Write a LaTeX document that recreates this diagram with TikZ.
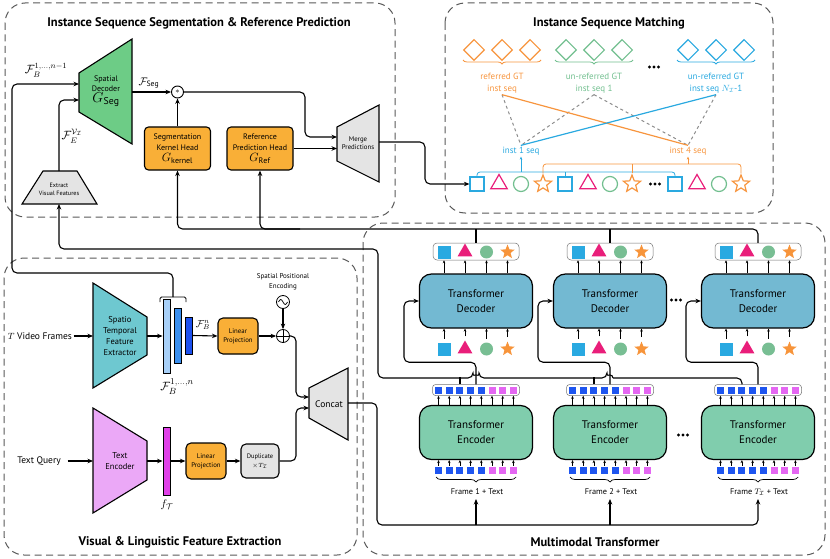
\documentclass[tikz,border=0pt]{standalone}
\usepackage{amsmath}
\usepackage{fontspec}
\setmainfont{PT Sans}
\usepackage{tikz}
\usetikzlibrary{arrows.meta}
\usetikzlibrary{shapes.geometric}
\usetikzlibrary{positioning}
\usetikzlibrary{decorations.pathreplacing}

\definecolor{segreen}{HTML}{6DCC86}
\definecolor{stteal}{HTML}{6EC8D0}
\definecolor{tepink}{HTML}{EBA8F7}
\definecolor{boxgray}{HTML}{E4E4E4}
\definecolor{headorange}{HTML}{F9AF37}
\definecolor{decblue}{HTML}{73B9D2}
\definecolor{encgreen}{HTML}{80CDAD}
\definecolor{fblight}{HTML}{A8D0F8}
\definecolor{fbmid}{HTML}{3A8FEF}
\definecolor{fbdark}{HTML}{1C50EE}
\definecolor{ftmag}{HTML}{E040E8}
\definecolor{tokblue}{HTML}{1E55F0}
\definecolor{tokpink}{HTML}{E466F2}
\definecolor{qblue}{HTML}{29A9E1}
\definecolor{qpink}{HTML}{E91E7A}
\definecolor{qgreen}{HTML}{78BE93}
\definecolor{qorange}{HTML}{F7943A}
\definecolor{morange}{HTML}{F7953E}
\definecolor{mgreen}{HTML}{72BF8F}
\definecolor{mblue}{HTML}{2AA9E0}

\newcommand{\threedots}[2]{\foreach \dd in {-4.5,0,4.5}{\fill (#1+\dd,#2) circle (1.6pt);}}

\begin{document}
\begin{tikzpicture}[
	x=1pt, y=-1pt,
	line width=1.1pt,
	font=\fontsize{8}{10}\selectfont
]
\tikzset{
    panel/.style = {draw=black!65, line width=1pt, dash pattern=on 7pt off 4.5pt, rounded corners=20pt},
    paneltitle/.style = {font=\bfseries\fontsize{12.5}{14}\selectfont},
    arr/.style = {-{Stealth[length=5.5pt,width=4.5pt]}, line width=1.1pt, rounded corners=5pt},
    conn/.style = {line width=1.1pt, rounded corners=5pt},
    tarr/.style = {-{Stealth[length=3pt,width=2.6pt]}, line width=0.7pt},
    trap/.style = {draw, line width=1.1pt},
    headbox/.style = {draw, line width=1.1pt, rounded corners=4pt, fill=headorange, align=center, minimum width=66pt, minimum height=43pt, inner sep=1pt, font=\fontsize{8}{11}\selectfont},
    smallbox/.style = {draw, line width=1.1pt, rounded corners=5pt, fill=headorange, align=center, minimum width=40pt, minimum height=36pt, inner sep=1pt, font=\fontsize{6.8}{9}\selectfont},
    bar/.style = {draw, line width=0.8pt, minimum width=7pt, inner sep=0pt},
    decbox/.style = {draw, line width=1.2pt, rounded corners=12pt, fill=decblue, align=center, minimum width=113pt, minimum height=54pt, font=\fontsize{11}{15}\selectfont},
    encbox/.style = {decbox, fill=encgreen},
    outbox/.style = {draw=black!55, line width=0.5pt, rounded corners=4pt, fill=white, minimum width=86pt, minimum height=17pt, inner sep=0pt},
    tokbox/.style = {outbox, minimum width=87pt, minimum height=11pt, rounded corners=3pt},
    tok/.style = {rectangle, minimum size=7pt, inner sep=0pt},
    qsq/.style = {rectangle, fill=qblue, minimum size=13pt, inner sep=0pt},
    qtri/.style = {regular polygon, regular polygon sides=3, fill=qpink, minimum size=17pt, inner sep=0pt},
    qcirc/.style = {circle, fill=qgreen, minimum size=13pt, inner sep=0pt},
    qstar/.style = {star, star points=5, star point ratio=2.3, fill=qorange, minimum size=15pt, inner sep=0pt},
    msq/.style = {rectangle, draw=mblue, line width=1.2pt, minimum size=14pt, inner sep=0pt},
    mtri/.style = {regular polygon, regular polygon sides=3, draw=qpink, line width=1.2pt, minimum size=19pt, inner sep=0pt},
    mcirc/.style = {circle, draw=mgreen, line width=1.2pt, minimum size=15pt, inner sep=0pt},
    mstar/.style = {star, star points=5, star point ratio=2.3, draw=morange, line width=1.2pt, minimum size=18pt, inner sep=0pt},
    gtdia/.style = {diamond, aspect=1, minimum size=21pt, inner sep=0pt, line width=1.1pt},
    mbrace/.style = {decorate, decoration={brace, amplitude=4pt, mirror}, line width=0.8pt},
    ebrace/.style = {decorate, decoration={brace, amplitude=5pt, mirror}, line width=0.7pt},
    mlab/.style = {align=center, inner sep=1pt, font=\fontsize{9}{12}\selectfont},
    oplus/.style = {circle, draw, line width=0.8pt, minimum size=13pt, inner sep=0pt,
        path picture={\draw[line width=0.8pt] (path picture bounding box.north) -- (path picture bounding box.south)
        (path picture bounding box.west) -- (path picture bounding box.east);}},
    sine/.style = {circle, draw, line width=0.8pt, minimum size=13pt, inner sep=0pt,
        path picture={\draw[line width=0.7pt] ([xshift=-4.5pt]path picture bounding box.center) sin ++(2.25pt,2.5pt) cos ++(2.25pt,-2.5pt) sin ++(2.25pt,-2.5pt) cos ++(2.25pt,2.5pt);}}
}
\useasboundingbox (0,0) rectangle (830,559);

% panels
\draw[panel] (5,3) rectangle (395,217);
\draw[panel] (445,3) rectangle (773,213);
\draw[panel] (4,258) rectangle (357,555);
\draw[panel] (363,223) rectangle (825,555);
\node[paneltitle] (t-seg) at (199,23) {Instance Sequence Segmentation \& Reference Prediction};
\node[paneltitle] (t-match) at (609,23) {Instance Sequence Matching};
\node[paneltitle] (t-feat) at (180,542) {Visual \& Linguistic Feature Extraction};
\node[paneltitle] (t-mm) at (595,542) {Multimodal Transformer};

% segmentation & reference prediction
\draw[trap, fill=segreen] (79,73) -- (132,39) -- (132,144) -- (79,112) -- cycle;
\node[align=center, font=\fontsize{8}{10.5}\selectfont] (sdec) at (106,91) {Spatial\\Decoder\\{\fontsize{14}{14}\selectfont$G_{\mathrm{Seg}}$}};
\coordinate (sdec-in1) at (79,84);
\coordinate (sdec-in2) at (79,100);
\coordinate (sdec-out) at (132,92);
\node[inner sep=0pt] (fb-lab) at (46,70) {\fontsize{12}{12}\selectfont$\mathcal{F}_B^{1,\ldots,n-1}$};
\node[inner sep=0pt] (fe-lab) at (72,136) {\fontsize{11.5}{11}\selectfont$\mathcal{F}_E^{\mathcal{V}_{\mathcal{I}}}$};
\node[inner sep=0pt] (fseg-lab) at (149,83) {\fontsize{11}{11}\selectfont$\mathcal{F}_{\mathrm{Seg}}$};
\node[circle, draw, line width=0.9pt, minimum size=12pt, inner sep=0pt] (conv) at (177.5,92) {$\ast$};
\node[headbox] (khead) at (177.5,148.5) {Segmentation\\Kernel Head\\{\fontsize{12}{12}\selectfont$G_{\mathrm{kernel}}$}};
\node[headbox] (rhead) at (260,148.5) {Reference\\Prediction Head\\{\fontsize{12}{12}\selectfont$G_{\mathrm{Ref}}$}};
\draw[trap, fill=boxgray] (337,127) -- (379,105) -- (379,182) -- (337,161) -- cycle;
\node[align=center, font=\fontsize{6.8}{8.5}\selectfont] (merge) at (358,143) {Merge\\Predictions};
\coordinate (merge-in1) at (337,137);
\coordinate (merge-in2) at (337,148.5);
\coordinate (merge-out) at (379,142);
\draw[trap, fill=boxgray] (43,171) -- (77,171) -- (97,204) -- (22,204) -- cycle;
\node[align=center, font=\fontsize{6.2}{8}\selectfont] (extract) at (59,189) {Extract\\Visual Features};
\coordinate (extract-t) at (59,171);
\coordinate (extract-b) at (59,204);

\draw[arr] (sdec-out) -- (conv.west);
\draw[arr] (khead.north) -- (conv.south);
\draw[arr] (conv.east) -| (305,137) -- (merge-in1);
\draw[arr] (rhead.east) -- (merge-in2);
\draw[arr] (extract-t) |- (sdec-in2);

% visual & linguistic feature extraction
\draw[trap, fill=stteal] (93,283) -- (147,317) -- (147,355) -- (93,388) -- cycle;
\node[align=center, font=\fontsize{8.5}{11}\selectfont] (ste) at (120,336) {Spatio\\Temporal\\Feature\\Extractor};
\coordinate (ste-in) at (93,336);
\coordinate (ste-out) at (147,336);
\node[font=\fontsize{9.5}{10}\selectfont, inner sep=1pt] (vid) at (40,336) {$T$ Video Frames};
\draw[arr] (vid.east) -- (ste-in);
\node[bar, fill=fblight, minimum height=74pt] (fb1) at (166.5,336) {};
\node[bar, fill=fbmid, minimum height=55pt] (fb2) at (177.5,335.5) {};
\node[bar, fill=fbdark, minimum height=37pt] (fb3) at (188.5,335.5) {};
\draw[arr] (ste-out) -- (fb1.west);
\draw[line width=0.8pt, rounded corners=1.5pt] (160,302) -- (160,297) -- (186,297) -- (186,302);
\coordinate (fbr-top) at (173,297);
\node[inner sep=0pt] (fbn-lab) at (203,325) {\fontsize{10}{10}\selectfont$\mathcal{F}_B^n$};
\node[inner sep=0pt] (fball-lab) at (177,387) {\fontsize{12.5}{12}\selectfont$\mathcal{F}_B^{1,\ldots,n}$};
\node[smallbox] (lp1) at (238,336) {Linear\\Projection};
\draw[arr] (fb3.east) -- (lp1.west);
\node[oplus] (add) at (283,336) {};
\draw[arr] (lp1.east) -- (add.west);
\node[sine] (pe) at (283,302) {};
\node[align=center, font=\fontsize{7}{10}\selectfont] (pe-lab) at (283,282) {Spatial Positional\\Encoding};
\draw[arr] (pe.south) -- (add.north);

\draw[trap, fill=tepink] (93,408) -- (147,441) -- (147,480) -- (93,513) -- cycle;
\node[align=center, font=\fontsize{8.5}{11}\selectfont] (tenc) at (120,461) {Text\\Encoder};
\coordinate (te-in) at (93,461);
\coordinate (te-out) at (147,461);
\node[font=\fontsize{9.5}{10}\selectfont] (tq) at (39,461) {Text Query};
\draw[arr] ([xshift=3pt]tq.east) -- (te-in);
\node[bar, fill=ftmag, minimum height=68pt] (ft) at (166.5,461) {};
\draw[arr] (te-out) -- (ft.west);
\node[inner sep=0pt] (ft-lab) at (167,505) {\fontsize{11}{11}\selectfont$f_{\mathcal{T}}$};
\node[smallbox] (lp2) at (206,461) {Linear\\Projection};
\draw[arr] (ft.east) -- (lp2.west);
\node[smallbox, fill=boxgray, minimum width=38pt, minimum height=34pt, font=\fontsize{6.5}{9}\selectfont] (dup) at (260,461) {Duplicate\\$\times T_{\mathcal{I}}$};
\draw[arr] (lp2.east) -- (dup.west);

\draw[trap, fill=boxgray] (309,388) -- (348,368) -- (348,440) -- (309,418) -- cycle;
\node[font=\fontsize{9.5}{10}\selectfont] (concat) at (329,404) {Concat};
\coordinate (cc-in1) at (309,397);
\coordinate (cc-in2) at (309,408);
\coordinate (cc-out) at (348,403);
\draw[arr] (add.east) -| (296,397) -- (cc-in1);
\draw[arr] (dup.east) -| (296,408) -- (cc-in2);

% multimodal transformer
\foreach \i/\cx/\lab in {1/476/Frame 1 + Text, 2/610/Frame 2 + Text, 3/758/Frame $T_{\mathcal{I}}$ + Text}{
  \node[encbox] (enc\i) at (\cx,432.5) {Transformer\\Encoder};
  \node[tokbox] (eout\i) at (\cx,390) {};
  \foreach \k in {0,...,7}{
    \ifnum\k<5 \def\tc{tokblue}\else\def\tc{tokpink}\fi
    \node[tok, fill=\tc] (tin\i\k) at ({\cx-37.5+10.7*\k},470) {};
    \node[tok, fill=\tc] (tout\i\k) at ({\cx-37.5+10.7*\k},390) {};
    \draw[tarr] (tin\i\k.north) -- (tin\i\k.north |- enc\i.south);
    \draw[tarr] (enc\i.north -| tout\i\k) -- (tout\i\k |- eout\i.south);
  }
  \draw[ebrace] (\cx-40,477) -- (\cx+40,477);
  \node[font=\fontsize{8.3}{9}\selectfont] (flab\i) at (\cx+1,492) {\lab};
  \coordinate (fin\i) at (\cx,499);

  \node[decbox] (dec\i) at (\cx,301) {Transformer\\Decoder};
  \node[outbox] (dout\i) at (\cx,251.5) {};
  \foreach \j/\dx/\sty in {1/-32/qsq, 2/-11/qtri, 3/10.5/qcirc, 4/31.5/qstar}{
    \node[\sty] (qin\i\j) at (\cx+\dx,349) {};
    \node[\sty] (qout\i\j) at (\cx+\dx,252) {};
    \draw[tarr] (qin\i\j.north -| qin\i\j) ++(0,-3) -- (qin\i\j |- dec\i.south);
    \draw[tarr] (dec\i.north -| qout\i\j) -- (qout\i\j |- dout\i.south);
  }
  \draw[arr] (eout\i.north) -- ++(0,-22) -- ++(-72,0) |- (dec\i.west);
}
\threedots{676}{300}
\threedots{683}{435}

% encoder output to visual features
\draw[conn] ([xshift=-16pt]eout1.north) -- ++(0,-7);
\draw[conn] ([xshift=-16pt]eout2.north) -- ++(0,-7);
\draw[conn] ([xshift=-16pt]eout3.north) |- (613,378);
\draw[arr] (613,378) arc[start angle=0, end angle=180, radius=3pt] -- (479,378) arc[start angle=0, end angle=180, radius=3pt] -- (378,378) -- (378,249) -| (extract-b);

% decoder outputs to heads
\draw[conn] (dout1.north) -- ++(0,-14);
\draw[conn] (dout2.north) -- ++(0,-14);
\draw[arr] (dout3.north) |- (200,229) -| (khead.south);
\draw[arr] (300,229) -| (rhead.south);

% backbone features to spatial decoder
\draw[arr] (fbr-top) |- (12,273) |- (sdec-in1);

% concat to encoders
\coordinate (tbus) at (0,525);
\draw[arr] (cc-out) -| (377,525) -| (fin3);
\draw[arr] (fin1 |- tbus) -- (fin1);
\draw[arr] (fin2 |- tbus) -- (fin2);

% instance sequence matching
\foreach \n/\x/\c in {1/474/morange, 2/502/morange, 3/530/morange, 4/566/mgreen, 5/594/mgreen, 6/622/mgreen, 7/688/mblue, 8/716/mblue, 9/744/mblue}
  \node[gtdia, draw=\c] (gt\n) at (\x,50) {};
\draw[mbrace, draw=morange] (463,60) -- (541,60);
\draw[mbrace, draw=mgreen] (555,60) -- (633,60);
\draw[mbrace, draw=mblue] (677,60) -- (755,60);
\threedots{654}{67}
\node[mlab, text=morange] (refgt) at (502,83) {referred GT\\inst seq};
\node[mlab, text=mgreen] (unref1) at (594,83) {un-referred GT\\inst seq 1};
\node[mlab, text=mblue] (unrefn) at (716,83) {un-referred GT\\inst seq $N_{\mathcal{I}}$-1};

\foreach \n/\x/\sty in {1/477/msq, 2/499/mtri, 3/521/mcirc, 4/543/mstar, 5/565/msq, 6/588/mtri, 7/610/mcirc, 8/632/mstar, 9/675/msq, 10/697/mtri, 11/719/mcirc, 12/741/mstar}
  \node[\sty] (m\n) at (\x,184) {};
\threedots{655}{184}
\draw[arr] (merge-out) -| (425,184) -- (m1.west);

\node[mlab, text=mblue] (inst1) at (521,151) {inst 1 seq};
\node[mlab, text=morange] (inst4) at (688,151) {inst 4 seq};
\coordinate (bb) at (0,172);
\coordinate (ob) at (0,164);
\draw[mblue, line width=0.8pt, rounded corners=3pt] (m1.north) |- (m9.north |- bb) -- (m9.north);
\draw[mblue, line width=0.8pt] (m5.north) -- (m5.north |- bb);
\draw[tarr, mblue, line width=0.8pt] (m3.north |- bb) -- (inst1.south);
\draw[morange, line width=0.8pt, rounded corners=3pt] (m4.north) |- (m12.north |- ob) -- (m12.north);
\draw[morange, line width=0.8pt] (m8.north) -- (m8.north |- ob);
\draw[tarr, morange, line width=0.8pt] (inst4.south |- ob) -- (inst4.south);

\draw[black!45, line width=1pt, dashed] (refgt.south) -- (inst1.north);
\draw[black!45, line width=1pt, dashed] (unref1.south) -- (inst1.north);
\draw[black!45, line width=1pt, dashed] (unref1.south) -- (inst4.north);
\draw[black!45, line width=1pt, dashed] (unrefn.south) -- (inst4.north);
\draw[morange, line width=1.2pt] (refgt.south) -- (inst4.north);
\draw[mblue, line width=1.2pt] (inst1.north) -- (unrefn.south);
\end{tikzpicture}
\end{document}
